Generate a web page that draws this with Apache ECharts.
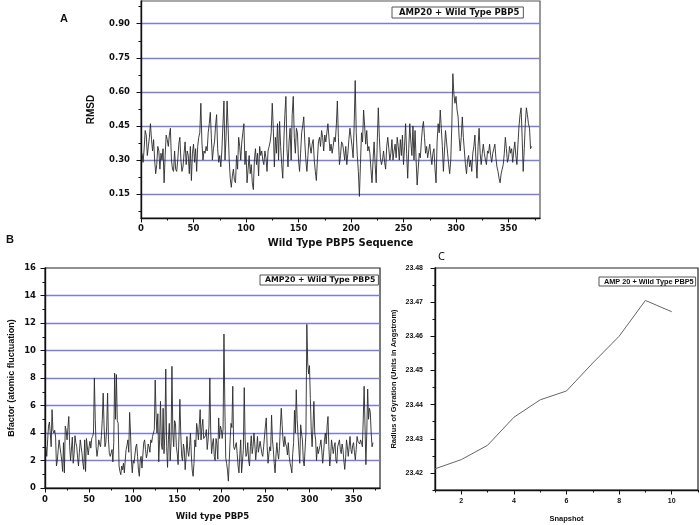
<!DOCTYPE html>
<html>
<head>
<meta charset="utf-8">
<script src="https://cdn.jsdelivr.net/npm/echarts@6/dist/echarts.min.js"></script>
<style>html,body{margin:0;padding:0;background:#fff}#c{width:700px;height:525px}</style>
</head>
<body>
<div id="c"></div>
<script>
// ---- Data ----
const seriesNameAB = 'AMP20 + Wild Type PBP5';
const seriesNameC = 'AMP 20 + Wild Type PBP5';

const rmsd = [
0.33,0.29,0.35,0.43,0.41,0.32,0.36,0.40,0.46,0.39,
0.34,0.39,0.30,0.24,0.28,0.36,0.34,0.26,0.33,0.30,
0.35,0.20,0.32,0.41,0.39,0.36,0.41,0.44,0.30,0.26,
0.25,0.34,0.26,0.25,0.30,0.37,0.40,0.30,0.25,0.27,
0.33,0.38,0.28,0.34,0.32,0.24,0.36,0.21,0.33,0.37,
0.29,0.35,0.25,0.36,0.40,0.42,0.55,0.38,0.30,0.34,
0.33,0.36,0.34,0.42,0.46,0.51,0.40,0.30,0.35,0.38,
0.45,0.50,0.35,0.29,0.32,0.27,0.34,0.45,0.56,0.30,
0.40,0.56,0.44,0.30,0.22,0.18,0.23,0.26,0.21,0.20,
0.32,0.26,0.40,0.36,0.30,0.38,0.42,0.46,0.28,0.34,
0.20,0.26,0.32,0.24,0.28,0.20,0.17,0.30,0.35,0.28,
0.33,0.23,0.36,0.32,0.34,0.30,0.28,0.34,0.31,0.25,
0.34,0.36,0.38,0.42,0.55,0.44,0.27,0.40,0.33,0.46,
0.30,0.47,0.36,0.28,0.22,0.38,0.50,0.58,0.35,0.27,
0.38,0.44,0.30,0.50,0.58,0.40,0.33,0.44,0.42,0.30,
0.25,0.33,0.42,0.45,0.49,0.38,0.30,0.25,0.32,0.40,
0.36,0.33,0.37,0.39,0.30,0.25,0.21,0.30,0.38,0.40,
0.36,0.43,0.40,0.34,0.41,0.38,0.42,0.46,0.40,0.34,
0.37,0.33,0.36,0.40,0.38,0.45,0.56,0.40,0.28,0.32,
0.38,0.37,0.34,0.30,0.36,0.28,0.33,0.39,0.44,0.40,
0.36,0.31,0.45,0.65,0.42,0.32,0.25,0.14,0.28,0.42,
0.38,0.52,0.45,0.37,0.43,0.34,0.36,0.33,0.26,0.20,
0.30,0.38,0.28,0.20,0.38,0.53,0.40,0.31,0.28,0.30,
0.34,0.29,0.26,0.36,0.40,0.35,0.30,0.33,0.39,0.30,
0.34,0.37,0.31,0.40,0.36,0.30,0.39,0.32,0.41,0.28,
0.36,0.46,0.33,0.22,0.35,0.46,0.38,0.32,0.45,0.30,
0.43,0.30,0.19,0.26,0.33,0.31,0.38,0.44,0.47,0.40,
0.33,0.36,0.31,0.34,0.37,0.32,0.28,0.33,0.35,0.26,
0.20,0.38,0.46,0.42,0.52,0.44,0.36,0.25,0.34,0.43,
0.38,0.33,0.28,0.24,0.30,0.45,0.68,0.59,0.55,0.58,
0.52,0.49,0.40,0.34,0.40,0.49,0.40,0.34,0.28,0.24,
0.30,0.32,0.27,0.30,0.25,0.33,0.36,0.41,0.30,0.22,
0.36,0.44,0.33,0.28,0.33,0.37,0.33,0.30,0.28,0.34,
0.33,0.37,0.32,0.29,0.33,0.35,0.37,0.31,0.27,0.25,
0.22,0.20,0.24,0.26,0.28,0.33,0.40,0.35,0.29,0.31,
0.36,0.33,0.35,0.29,0.34,0.38,0.32,0.28,0.37,0.45,
0.50,0.53,0.40,0.25,0.35,0.46,0.53,0.50,0.46,0.44,
0.35,0.36
];

const bfactor = [
3.0,2.3,3.5,4.5,4.8,4.0,3.0,5.7,4.2,4.0,
4.2,3.7,1.6,2.0,2.8,3.5,3.6,2.5,2.0,1.2,
3.3,1.1,4.5,4.2,3.5,4.4,5.2,3.0,2.0,1.9,
3.7,1.8,2.5,3.8,3.3,3.0,2.2,1.6,2.6,3.5,
3.0,2.5,1.8,1.35,3.5,1.2,3.6,3.5,2.4,3.0,
3.4,2.9,3.6,3.75,4.0,8.0,5.0,3.0,2.3,2.8,
3.5,3.2,3.0,3.8,5.0,6.9,4.5,3.0,3.3,4.5,
6.9,3.5,2.5,2.3,2.4,2.8,1.9,3.3,8.35,5.0,
8.25,4.9,4.7,1.6,1.2,0.97,1.6,1.33,1.8,1.1,
2.0,2.8,3.1,3.5,2.6,5.5,4.0,2.05,1.1,2.0,
1.8,2.4,3.0,3.2,2.3,1.3,0.85,2.0,2.3,1.45,
2.4,3.3,3.5,2.8,2.2,2.5,3.2,3.0,2.6,3.5,
3.3,3.75,3.8,4.25,7.85,5.3,4.0,5.4,1.9,3.5,
6.3,3.2,2.8,5.8,2.5,4.0,8.65,3.0,1.5,3.5,
4.7,2.0,3.3,8.85,4.0,3.0,4.9,4.7,3.0,2.5,
1.7,3.8,6.45,4.0,2.3,2.0,3.2,2.8,1.33,2.2,
3.75,2.7,2.3,3.0,4.0,2.4,1.3,0.85,1.8,3.5,
3.0,4.7,4.25,3.5,4.6,5.7,3.5,4.4,5.0,3.6,
3.5,3.8,4.25,2.8,3.5,4.5,8.0,4.0,2.5,3.2,
3.6,2.3,2.0,3.6,3.2,2.1,5.1,3.6,4.5,4.25,
3.6,4.3,11.2,6.0,2.2,1.8,1.3,0.5,2.0,3.5,
4.7,4.4,7.4,3.0,2.8,2.7,3.3,2.5,1.6,1.1,
2.4,3.5,1.1,1.0,2.8,7.3,3.5,2.3,2.5,3.3,
2.0,1.6,3.0,3.8,2.5,3.0,4.0,3.2,2.05,2.8,
3.75,2.6,2.5,3.4,3.5,2.5,2.3,3.0,3.1,4.5,
5.1,3.0,1.8,2.5,3.0,2.7,5.3,3.5,2.8,1.8,
1.1,2.4,3.3,2.5,2.1,3.0,4.5,5.8,4.6,3.5,
3.0,3.75,3.2,3.0,2.4,3.3,2.3,1.8,1.5,1.1,
2.5,3.3,5.65,4.0,7.15,5.0,4.9,2.8,1.8,4.6,
4.0,3.5,2.0,1.6,1.5,4.0,11.9,9.1,8.3,8.9,
6.5,4.2,3.0,4.5,6.3,4.0,3.5,2.0,3.0,2.5,
2.5,3.1,3.5,2.7,1.8,2.6,3.5,4.0,3.2,4.5,
5.2,3.0,1.6,2.3,3.5,3.0,2.5,3.0,3.3,2.0,
1.8,3.0,3.0,3.5,2.8,2.5,3.2,2.8,2.0,1.35,
2.2,3.5,3.0,2.3,3.0,3.75,2.8,2.5,3.1,3.3,
2.6,2.05,2.8,3.75,3.4,3.5,3.2,3.5,3.3,3.0,
5.0,7.4,4.5,1.7,4.0,7.2,5.0,5.8,5.5,4.0,
3.0,3.3
];

const snapshots = [1,2,3,4,5,6,7,8,9,10];
const rg = [23.4212,23.4239,23.4281,23.4363,23.4414,23.4440,23.4522,23.4600,23.4705,23.4672];

// tick labels
const seqTicks = [0,50,100,150,200,250,300,350];
const seqMinor = [25,75,125,175,225,275,325,375];
const rmsdTicks = [0.15,0.30,0.45,0.60,0.75,0.90];
const rmsdMinor = [0.075,0.225,0.375,0.525,0.675,0.825,0.975];
const bTicks = [0,2,4,6,8,10,12,14,16];
const bMinor = [1,3,5,7,9,11,13,15];
const bGrid = [2,4,6,8,10,12,14];
const snapTicks = [2,4,6,8,10];
const snapMinor = [1,3,5,7,9,11];
const rgTicks = [23.42,23.43,23.44,23.45,23.46,23.47,23.48];
const rgMinor = [23.415,23.425,23.435,23.445,23.455,23.465,23.475];

// ---- Chart ----
const residues = rmsd.map((_, i) => i + 1);
const chart = echarts.init(document.getElementById('c'), null, {renderer: 'canvas'});

const wide = 'DejaVu Sans';
const arial = 'Liberation Sans';
const gridBlue = '#7e7ed8';

function majorAxis(gi, min, max, ticks, fmt, font, size, margin, extra) {
  return Object.assign({
    type: 'value', gridIndex: gi, min: min, max: max,
    axisLine: {show: true, lineStyle: {color: '#111', width: 1.4}},
    axisTick: {show: true, customValues: ticks, length: 4.5, lineStyle: {color: '#111', width: 1}},
    axisLabel: {show: true, customValues: ticks, margin: margin, formatter: fmt,
      fontFamily: font, fontWeight: 'bold', fontSize: size, color: '#111'},
    splitLine: {show: false}
  }, extra || {});
}
function minorAxis(gi, min, max, ticks, pos) {
  return {
    type: 'value', gridIndex: gi, min: min, max: max, position: pos,
    axisLine: {show: false},
    axisTick: {show: true, customValues: ticks, length: 2.5, lineStyle: {color: '#111', width: 1}},
    axisLabel: {show: false}, splitLine: {show: false}
  };
}
function splitAxis(gi, min, max, ticks, pos) {
  return {
    type: 'value', gridIndex: gi, min: min, max: max, position: pos,
    axisLine: {show: false},
    axisTick: {show: false, customValues: ticks},
    axisLabel: {show: false},
    splitLine: {show: true, lineStyle: {color: gridBlue, width: 1.3}}
  };
}

const option = {
  animation: false,
  backgroundColor: '#fff',
  grid: [
    {left: 141, top: 1, width: 399, height: 217, show: true, borderColor: '#555', borderWidth: 1.2, backgroundColor: 'transparent'},
    {left: 45, top: 268, width: 335, height: 220, show: true, borderColor: '#222', borderWidth: 1.2, backgroundColor: 'transparent'},
    {left: 435, top: 268, width: 263, height: 222, show: true, borderColor: '#222', borderWidth: 1.2, backgroundColor: 'transparent'}
  ],
  xAxis: [
    majorAxis(0, 0, 380, seqTicks, v => String(v), wide, 8.5, 6, {
      position: 'bottom', name: 'Wild Type PBP5 Sequence', nameLocation: 'middle', nameGap: 20,
      nameTextStyle: {fontFamily: wide, fontWeight: 'bold', fontSize: 10, color: '#111'}}),
    minorAxis(0, 0, 380, seqMinor, 'bottom'),
    majorAxis(1, 0, 380, seqTicks, v => String(v), wide, 8.5, 7, {
      position: 'bottom', name: 'Wild type PBP5', nameLocation: 'middle', nameGap: 24,
      nameTextStyle: {fontFamily: wide, fontWeight: 'bold', fontSize: 8.5, color: '#111'}}),
    minorAxis(1, 0, 380, seqMinor, 'bottom'),
    majorAxis(2, 1, 11, snapTicks, v => String(v), arial, 7, 8, {
      position: 'bottom', name: 'Snapshot', nameLocation: 'middle', nameGap: 25,
      nameTextStyle: {fontFamily: arial, fontWeight: 'bold', fontSize: 7.5, color: '#111'}}),
    minorAxis(2, 1, 11, snapMinor, 'bottom')
  ],
  yAxis: [
    majorAxis(0, 0.045, 1.0, rmsdTicks, v => v.toFixed(2), wide, 8.5, 11, {
      position: 'left', name: 'RMSD', nameLocation: 'middle', nameGap: 45,
      nameTextStyle: {fontFamily: arial, fontWeight: 'bold', fontSize: 10, color: '#111'},
      splitLine: {show: true, lineStyle: {color: gridBlue, width: 1.3}}}),
    minorAxis(0, 0.045, 1.0, rmsdMinor, 'left'),
    majorAxis(1, 0, 16, bTicks, v => String(v), wide, 8.5, 9, {
      position: 'left', name: 'Bfactor (atomic fluctuation)', nameLocation: 'middle', nameGap: 29,
      nameTextStyle: {fontFamily: arial, fontWeight: 'bold', fontSize: 9, color: '#111'}}),
    minorAxis(1, 0, 16, bMinor, 'left'),
    splitAxis(1, 0, 16, bGrid, 'left'),
    majorAxis(2, 23.415, 23.48, rgTicks, v => v.toFixed(2), arial, 7, 12, {
      position: 'left', name: 'Radius of Gyration (Units in Angstrom)', nameLocation: 'middle', nameGap: 37,
      nameTextStyle: {fontFamily: arial, fontWeight: 'bold', fontSize: 7.5, color: '#111'}}),
    minorAxis(2, 23.415, 23.48, rgMinor, 'left')
  ],
  legend: [
    {data: [seriesNameAB], left: 392, top: 7, icon: 'none', itemWidth: 0, itemHeight: 0, itemGap: 0,
     padding: [1, 4, 1, 2], borderColor: '#555', borderWidth: 1, selectedMode: false,
     textStyle: {fontFamily: wide, fontWeight: 'bold', fontSize: 8.5, color: '#111'}},
    {data: [seriesNameAB], left: 260, top: 275, icon: 'none', itemWidth: 0, itemHeight: 0, itemGap: 0,
     padding: [1, 3, 1, 0], borderColor: '#555', borderWidth: 1, selectedMode: false,
     textStyle: {fontFamily: wide, fontWeight: 'bold', fontSize: 7.8, color: '#111'}},
    {data: [seriesNameC], left: 599, top: 277, icon: 'none', itemWidth: 0, itemHeight: 0, itemGap: 0,
     padding: [1, 2, 1, 0], borderColor: '#555', borderWidth: 1, selectedMode: false,
     textStyle: {fontFamily: arial, fontWeight: 'bold', fontSize: 7.3, color: '#111'}}
  ],
  graphic: [
    {type: 'text', left: 60, top: 13, style: {text: 'A', fontFamily: arial, fontWeight: 'bold', fontSize: 11, fill: '#111'}},
    {type: 'text', left: 6, top: 234, style: {text: 'B', fontFamily: arial, fontWeight: 'bold', fontSize: 11, fill: '#111'}},
    {type: 'text', left: 438, top: 251, style: {text: 'C', fontFamily: 'Noto Sans', fontWeight: 'normal', fontSize: 11, fill: '#111'}}
  ],
  series: [
    {name: seriesNameAB, type: 'line', xAxisIndex: 0, yAxisIndex: 0, showSymbol: false, symbol: 'none',
     lineStyle: {color: '#2a2a2a', width: 0.9}, itemStyle: {color: '#2a2a2a'}, z: 5,
     data: rmsd.map((v, i) => [residues[i], v])},
    {name: seriesNameAB, type: 'line', xAxisIndex: 2, yAxisIndex: 2, showSymbol: false, symbol: 'none',
     lineStyle: {color: '#2a2a2a', width: 0.9}, itemStyle: {color: '#2a2a2a'}, z: 5,
     data: bfactor.map((v, i) => [residues[i], v])},
    {name: seriesNameC, type: 'line', xAxisIndex: 4, yAxisIndex: 5, showSymbol: false, symbol: 'none',
     lineStyle: {color: '#666', width: 1}, itemStyle: {color: '#666'}, z: 5,
     data: rg.map((v, i) => [snapshots[i], v])}
  ]
};
chart.setOption(option);
</script>
</body>
</html>
